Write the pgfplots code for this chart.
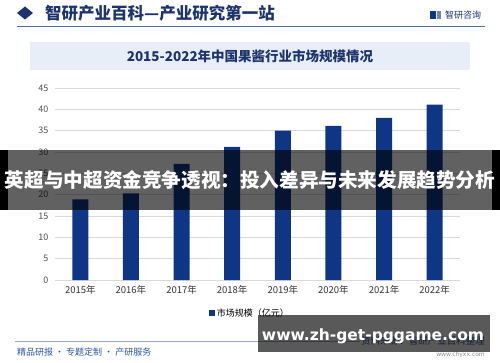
\documentclass[border=0pt]{standalone}
\usepackage{fontspec}
\setmainfont{Noto Sans CJK SC}
\newfontfamily\latinsans{DejaVu Sans}
\usepackage{pgfplots}
\pgfplotsset{compat=1.18}
\definecolor{navy}{RGB}{28,52,110}
\definecolor{barblue}{RGB}{14,54,132}
\definecolor{hline}{RGB}{84,108,165}
\definecolor{boxfill}{RGB}{232,238,247}
\definecolor{foot}{RGB}{46,86,160}
\definecolor{gridc}{RGB}{217,217,217}
\definecolor{tickc}{RGB}{80,80,80}
\pgfplotstableread{
x val
0 18.9
1 20.3
2 27.2
3 31.2
4 35.0
5 36.1
6 38.0
7 41.1
}\datatable
\begin{document}
\begin{tikzpicture}[x=1pt,y=1pt]
\path[use as bounding box] (0,0) rectangle (500,362);
% header
\fill[navy] (17,349) -- (25,355.5) -- (33,349) -- (25,342.5) -- cycle;
\node[anchor=west,inner sep=0,text=navy,font=\fontsize{16.5}{18}\selectfont\bfseries] at (45,349) {智研产业百科—产业研究第一站};
\fill[barblue] (430,343) rectangle (436,351);
\fill[barblue!60] (437,343) rectangle (441,351);
\node[anchor=west,inner sep=0,text=navy,font=\fontsize{9}{10}\selectfont] at (445,347) {智研咨询};
\draw[hline,line width=1pt] (17,335) -- (485,335);
% title box
\fill[boxfill] (30,292) rectangle (470,319.5);
\node[inner sep=0,text=navy,font=\fontsize{13.5}{15}\selectfont\bfseries] at (250,305.5) {2015-2022年中国果酱行业市场规模情况};
% chart
\begin{axis}[
  at={(55pt,82pt)}, anchor=south west,
  scale only axis, width=405pt, height=192pt,
  ymin=0, ymax=45, xmin=-0.5, xmax=7.5,
  ytick={0,5,...,45},
  xtick={0,...,7},
  xticklabels={2015年,2016年,2017年,2018年,2019年,2020年,2021年,2022年},
  ymajorgrids, grid style={gridc, line width=0.8pt},
  axis line style={draw=none}, tick style={draw=none},
  /pgf/number format/assume math mode=true,
  yticklabel style={font=\fontsize{9}{10}\selectfont, text=tickc, xshift=-3pt},
  xticklabel style={font=\fontsize{9.5}{11}\selectfont, text=black!80, yshift=-2pt},
  legend style={at={(0.481,-0.172)}, anchor=center, draw=none, fill=none, font=\fontsize{9}{10}\selectfont, inner sep=0pt},
  legend image code/.code={\fill[barblue] (0pt,-3pt) rectangle (6pt,3pt);},
]
\addplot[ybar, bar width=16pt, fill=barblue, draw=none] table[x=x,y=val] {\datatable};
\addlegendentry{市场规模（亿元）}
\end{axis}
% footer
\draw[hline!60,line width=1pt] (15,20.3) -- (360,20.3);
\node[anchor=west,inner sep=0,text=foot,font=\fontsize{9}{10}\selectfont] at (17,10) {精品研报 · 专题定制 · 产研服务};
\node[anchor=east,inner sep=0,text=foot,font=\fontsize{9.5}{10}\selectfont] at (485,21) {资料来源：智研产业百科整理};
\node[anchor=east,inner sep=0,text=black!45,font=\latinsans\fontsize{6}{7}\selectfont] at (485,7) {www.chyxx.com};
% overlay banners
\fill[black,fill opacity=0.62] (0,152) rectangle (500,212);
\fill[black] (0,152) rectangle (8,212);
\fill[black] (492,152) rectangle (500,212);
\node[inner sep=0,text=white,font=\fontsize{19.6}{21}\selectfont\bfseries] at (250,182) {英超与中超资金竞争透视：投入差异与未来发展趋势分析};
\fill[black,fill opacity=0.65] (258,10) rectangle (490,47);
\node[inner sep=0,text=white,font=\latinsans\fontsize{15.5}{17}\selectfont\bfseries] at (373,26) {www.zh-get-pggame.com};
\end{tikzpicture}
\end{document}
